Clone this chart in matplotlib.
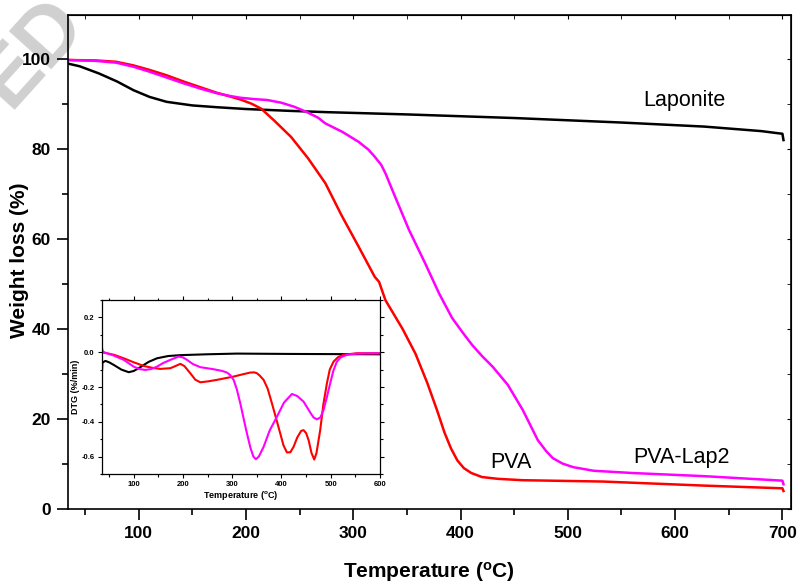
import matplotlib
matplotlib.use("Agg")
import matplotlib.pyplot as plt
from matplotlib.ticker import MultipleLocator, FormatStrFormatter

plt.rcParams['font.family'] = ['Liberation Sans', 'DejaVu Sans']
plt.rcParams['mathtext.fontset'] = 'custom'
plt.rcParams['mathtext.rm'] = 'Liberation Sans'
plt.rcParams['mathtext.bf'] = 'Liberation Sans:bold'

# ---- main TGA data (Temperature in C, weight %) ----
T_lap = [34, 45, 63, 80, 95, 110, 126, 150, 173, 200, 240, 276, 350, 450, 550, 627, 680, 700, 701]
W_lap = [99.0, 98.4, 96.8, 95.0, 93.1, 91.6, 90.5, 89.7, 89.3, 88.9, 88.5, 88.2, 87.7, 86.9, 85.9, 85.0, 84.0, 83.4, 82.0]

T_pva = [34, 60, 79, 95, 110, 126, 142, 158, 173, 185, 195, 205, 214, 226, 242, 258, 274, 289, 305, 320, 324, 330,
         346, 358, 369, 378, 385, 391, 397, 403, 410, 420, 435, 458, 533, 627, 700, 701]
W_pva = [99.8, 99.7, 99.4, 98.6, 97.6, 96.4, 95.0, 93.7, 92.5, 91.7, 91.0, 90.1, 89.0, 86.4, 82.7, 77.9, 72.4, 65.3, 58.3, 51.6, 50.5, 46.4,
         40.0, 34.5, 28.0, 22.0, 17.0, 13.5, 10.8, 9.1, 8.0, 7.1, 6.7, 6.4, 6.1, 5.2, 4.6, 4.0]

T_lap2 = [34, 60, 79, 95, 110, 126, 142, 158, 173, 185, 195, 208, 220, 233, 245, 256, 267, 274, 290, 305, 314, 320, 326, 330, 339,
          352, 367, 380, 392, 402, 411, 420, 430, 444, 458, 472, 480, 486, 495, 505, 524, 560, 627, 700, 701]
W_lap2 = [99.8, 99.6, 99.2, 98.3, 97.2, 95.9, 94.6, 93.4, 92.4, 91.8, 91.4, 91.1, 90.9, 90.3, 89.4, 88.3, 87.0, 85.7, 83.8, 81.6, 79.9, 78.3, 76.5, 74.6, 69.4,
          62.0, 54.6, 47.9, 42.5, 39.2, 36.4, 34.0, 31.6, 27.6, 22.0, 15.3, 12.8, 11.3, 10.1, 9.3, 8.5, 8.0, 7.3, 6.3, 5.5]

# ---- inset DTG data ----
Td_lap = [35.8, 36.5, 42.5, 50, 59.4, 75, 89.9, 100, 113.5, 130, 147.3, 170, 194.7, 248.7, 309.6, 417.8, 600]
D_lap = [-0.102, -0.06, -0.05, -0.058, -0.073, -0.1, -0.115, -0.108, -0.086, -0.056, -0.035, -0.022, -0.017, -0.012, -0.008, -0.010, -0.012]

Td_pva = [35.8, 60, 79.7, 100, 120.3, 140, 154.1, 174.4, 186, 194.7, 203, 214.9, 225, 235.2, 250, 269.0, 302.8, 320, 336.6, 345, 350.2, 356, 363.7,
          372, 380.6, 390, 397.5, 404, 411.0, 418, 424.5, 432, 440, 444.8, 450, 455.0, 461, 466.5, 471, 478.6, 485, 492.2, 498, 505.7, 515, 526.0, 553.0, 600]
D_pva = [0.0, -0.015, -0.035, -0.058, -0.079, -0.091, -0.096, -0.092, -0.078, -0.067, -0.08, -0.121, -0.158, -0.173, -0.168, -0.159, -0.140, -0.128, -0.117, -0.116, -0.121, -0.135, -0.159,
         -0.21, -0.294, -0.39, -0.467, -0.535, -0.576, -0.575, -0.544, -0.49, -0.452, -0.448, -0.465, -0.505, -0.58, -0.617, -0.58, -0.448, -0.3, -0.179, -0.1, -0.054, -0.028, -0.015, -0.006, -0.006]

Td_lap2 = [35.8, 36.5, 39.1, 60, 79.7, 100, 112, 123.7, 135, 147.3, 160, 174.4, 191.3, 200, 208.2, 220, 235.2, 262.3, 280, 289.3, 296, 302.8, 309, 316.4,
           323, 329.9, 337, 343, 348.1, 354, 363.7, 376, 390.7, 405, 421.2, 432, 444.8, 458, 465, 471.9, 479, 485.4, 492, 498.9, 505, 512.4, 520, 532.7, 553.0, 600]
D_lap2 = [0.023, 0.01, 0.0, -0.02, -0.044, -0.083, -0.097, -0.102, -0.097, -0.083, -0.062, -0.044, -0.025, -0.03, -0.044, -0.068, -0.086, -0.098, -0.108, -0.117, -0.132, -0.159, -0.21,
          -0.294, -0.38, -0.467, -0.55, -0.6, -0.615, -0.6, -0.544, -0.45, -0.371, -0.29, -0.240, -0.252, -0.284, -0.345, -0.375, -0.386, -0.375, -0.332, -0.26, -0.179, -0.11, -0.054, -0.03, -0.015, -0.008, -0.006]

labels = ["Laponite", "PVA", "PVA-Lap2"]
colors = ["black", "#ff0000", "#ff00ff"]

W, H = 798, 585
fig = plt.figure(figsize=(W / 100, H / 100), dpi=100)

# watermark fragment (behind everything)
fig.text(-0.045, 0.91, "ED", rotation=48, fontsize=60, color="#d0d0d0", fontweight='bold',
         ha='left', va='center', zorder=-5)

ax = fig.add_axes([67.7 / W, 1 - 509 / H, (791 - 67.7) / W, (509 - 15) / H])
ax.patch.set_alpha(0)
ax.plot(T_lap, W_lap, color=colors[0], lw=1.8)
ax.plot(T_pva, W_pva, color=colors[1], lw=1.8)
ax.plot(T_lap2, W_lap2, color=colors[2], lw=1.8)
ax.set_xlim(33.8, 708)
ax.set_ylim(0, 109.8)
ax.xaxis.set_major_locator(MultipleLocator(100))
ax.xaxis.set_minor_locator(MultipleLocator(50))
ax.yaxis.set_major_locator(MultipleLocator(20))
ax.yaxis.set_minor_locator(MultipleLocator(10))
ax.tick_params(axis='both', which='major', direction='out', length=8, width=1.2, labelsize=12.5, pad=4)
ax.tick_params(axis='both', which='minor', direction='out', length=4.5, width=1.2)
for lab in ax.get_xticklabels() + ax.get_yticklabels():
    lab.set_fontweight('bold')
for sp in ax.spines.values():
    sp.set_linewidth(1.2)
ax.set_xlabel(r'Temperature ($\mathbf{^o}$C)', fontsize=15, fontweight='bold', labelpad=14)
ax.set_ylabel('Weight loss (%)', fontsize=15, fontweight='bold')
ax.yaxis.set_label_coords(-0.053, 0.504)

# ticks on top/right
axt = ax.secondary_xaxis('top')
axt.xaxis.set_major_locator(MultipleLocator(100))
axt.xaxis.set_minor_locator(MultipleLocator(50))
axt.tick_params(which='both', direction='in', length=3, labeltop=False)
axr = ax.secondary_yaxis('right')
axr.yaxis.set_major_locator(MultipleLocator(20))
axr.yaxis.set_minor_locator(MultipleLocator(10))
axr.tick_params(which='both', direction='in', length=3, labelright=False)

def px2T(px):
    return 33.8 + (px - 67.7) / 1.066

def py2W(py):
    return (509 - py) / 4.5

ax.text(px2T(680), py2W(100), labels[0], fontsize=15.5, ha='center', va='center')
ax.text(px2T(508), py2W(462), labels[1], fontsize=15.5, ha='center', va='center')
ax.text(px2T(678), py2W(457), labels[2], fontsize=15.5, ha='center', va='center')

# inset
axi = fig.add_axes([101.7 / W, 1 - 474 / H, (380 - 101.7) / W, (474 - 300) / H])
axi.plot(Td_lap, D_lap, color=colors[0], lw=1.5)
axi.plot(Td_pva, D_pva, color=colors[1], lw=1.5)
axi.plot(Td_lap2, D_lap2, color=colors[2], lw=1.5)
axi.set_xlim(35, 600)
axi.set_ylim(-0.7, 0.3)
axi.xaxis.set_major_locator(MultipleLocator(100))
axi.xaxis.set_minor_locator(MultipleLocator(50))
axi.yaxis.set_major_locator(MultipleLocator(0.2))
axi.yaxis.set_minor_locator(MultipleLocator(0.1))
axi.yaxis.set_major_formatter(FormatStrFormatter('%.1f'))
axi.tick_params(axis='both', which='major', direction='out', length=3, width=0.8, labelsize=5.5, pad=2)
axi.tick_params(axis='both', which='minor', direction='out', length=1.8, width=0.8)
axi.tick_params(top=True, right=True, which='both')
for lab in axi.get_xticklabels() + axi.get_yticklabels():
    lab.set_fontweight('bold')
for sp in axi.spines.values():
    sp.set_linewidth(0.9)
axi.set_xlabel(r'Temperature ($\mathbf{^o}$C)', fontsize=6.5, fontweight='bold', labelpad=0.5)
axi.set_ylabel('DTG (%/min)', fontsize=6.5, fontweight='bold', labelpad=1)

fig.savefig("out.png", dpi=100)
